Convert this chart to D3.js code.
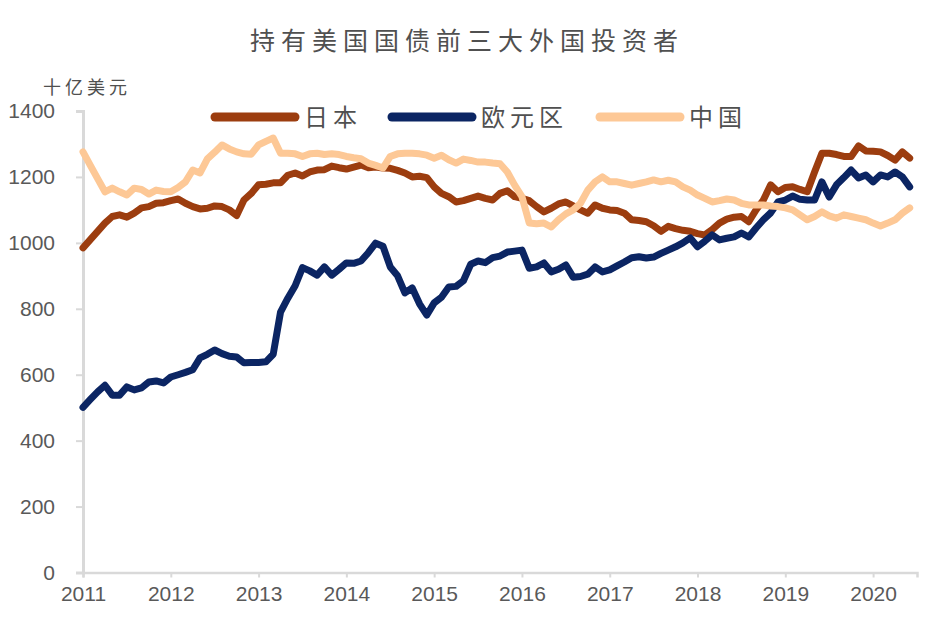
<!DOCTYPE html>
<html>
<head>
<meta charset="utf-8">
<script src="https://cdn.jsdelivr.net/npm/d3@7"></script>
<style>
  html, body { margin: 0; padding: 0; background: #fff; }
  svg { display: block; }
</style>
</head>
<body>
<svg id="chart" width="938" height="622"></svg>
<script>
// ---- DATA (monthly, Jan 2011 .. Jun 2020), 十亿美元 ----
const title = "持有美国国债前三大外国投资者";
const unitLabel = "十亿美元";
const seriesNames = ["日本", "欧元区", "中国"];
const yearLabels = ["2011","2012","2013","2014","2015","2016","2017","2018","2019","2020"];
const yTicks = [0, 200, 400, 600, 800, 1000, 1200, 1400];

const japan = [
  985,1010,1035,1060,1080,1085,1078,1090,1106,1110,1120,1122,
  1128,1133,1120,1110,1103,1105,1112,1110,1100,1083,1130,1150,
  1176,1178,1182,1182,1205,1212,1203,1215,1221,1222,1233,1228,
  1224,1230,1236,1228,1230,1227,1226,1220,1212,1200,1202,1198,
  1170,1150,1140,1124,1128,1135,1142,1135,1130,1150,1158,1140,
  1135,1128,1110,1094,1105,1118,1124,1112,1100,1090,1115,1105,
  1100,1098,1090,1070,1068,1064,1052,1035,1050,1043,1038,1035,
  1028,1024,1040,1060,1072,1078,1080,1064,1100,1130,1176,1155,
  1168,1170,1162,1155,1215,1272,1272,1268,1262,1262,1294,1279,
  1278,1276,1265,1251,1276,1257
];
const euro = [
  501,525,548,568,538,538,563,554,560,578,581,575,
  593,600,607,615,651,662,675,664,656,654,636,637,
  637,639,662,790,832,870,925,915,902,927,902,920,
  939,938,945,970,999,990,927,900,848,863,815,781,
  818,835,866,868,885,935,945,940,955,960,972,975,
  978,923,927,939,912,920,933,896,898,905,927,912,
  918,930,942,955,958,954,957,968,978,988,1000,1015,
  988,1005,1024,1009,1014,1018,1030,1018,1045,1070,1091,1124,
  1130,1142,1132,1130,1130,1185,1139,1176,1198,1221,1197,1206,
  1185,1206,1200,1215,1200,1170
];
const china = [
  1276,1235,1195,1155,1166,1155,1145,1166,1162,1148,1160,1156,
  1155,1168,1185,1221,1212,1255,1275,1297,1285,1276,1270,1269,
  1297,1308,1318,1272,1272,1270,1262,1270,1272,1268,1270,1268,
  1262,1258,1255,1242,1235,1227,1262,1270,1272,1272,1270,1266,
  1257,1266,1252,1242,1254,1250,1245,1245,1242,1240,1215,1175,
  1140,1060,1058,1060,1048,1070,1088,1100,1120,1160,1185,1200,
  1185,1185,1180,1175,1180,1185,1191,1185,1190,1185,1170,1160,
  1145,1135,1124,1128,1133,1130,1120,1115,1115,1115,1112,1110,
  1106,1100,1085,1070,1080,1094,1082,1075,1085,1080,1075,1070,
  1060,1051,1060,1070,1090,1106
];
const seriesColors = ["#9c3d0f", "#0b2563", "#fdc896"];

// ---- CHART ----
const svg = d3.select("#chart");
const x = d3.scaleLinear().domain([0, 114]).range([83, 917]);
const y = d3.scaleLinear().domain([0, 1400]).range([572.5, 111]);
const axisColor = "#d9d9d9";
const textColor = "#595959";

// title
svg.append("text")
  .attr("x", 467).attr("y", 50)
  .attr("text-anchor", "middle")
  .attr("font-family", "'Noto Sans CJK SC', sans-serif")
  .attr("font-weight", 400)
  .attr("font-size", 25)
  .attr("letter-spacing", 6)
  .attr("fill", "#505050")
  .text(title);

// unit label
svg.append("text")
  .attr("x", 43).attr("y", 94)
  .attr("font-family", "'Noto Sans CJK SC', sans-serif")
  .attr("font-weight", 400)
  .attr("font-size", 18)
  .attr("letter-spacing", 4)
  .attr("fill", "#505050")
  .text(unitLabel);

// y axis
const yAxis = d3.axisLeft(y).tickValues(yTicks).tickSize(7).tickPadding(21).tickFormat(d3.format("d"));
const gy = svg.append("g").attr("transform", "translate(83,0)").call(yAxis);
gy.select(".domain").attr("stroke", axisColor).attr("stroke-width", 3);
gy.selectAll(".tick line").attr("stroke", axisColor).attr("stroke-width", 2);
gy.selectAll(".tick text")
  .attr("font-family", "'Liberation Sans', Arial, sans-serif")
  .attr("font-size", 21).attr("fill", textColor);

// x axis
const monthTicks = yearLabels.map((d, i) => i * 12);
const xAxis = d3.axisBottom(x).tickValues(monthTicks).tickSize(5).tickPadding(9)
  .tickFormat((d, i) => yearLabels[i]);
const gx = svg.append("g").attr("transform", "translate(0,572.5)").call(xAxis);
gx.select(".domain").attr("stroke", axisColor).attr("stroke-width", 2.5);
gx.selectAll(".tick line").attr("stroke", axisColor).attr("stroke-width", 2);
gx.selectAll(".tick text")
  .attr("font-family", "'Liberation Sans', Arial, sans-serif")
  .attr("font-size", 21).attr("fill", textColor);

// lines
const allSeries = [japan, euro, china];
const line = d3.line().x((d, i) => x(i)).y(d => y(d)).curve(d3.curveLinear);
allSeries.forEach((s, k) => {
  svg.append("path")
    .datum(s)
    .attr("d", line)
    .attr("fill", "none")
    .attr("stroke", seriesColors[k])
    .attr("stroke-width", 7)
    .attr("stroke-linejoin", "round")
    .attr("stroke-linecap", "round");
});

// legend
const legendX = [215, 392, 600];
const legendY = 117;
seriesNames.forEach((name, k) => {
  const g = svg.append("g").attr("transform", `translate(${legendX[k]},${legendY})`);
  g.append("line")
    .attr("x1", 0).attr("x2", 80).attr("y1", 0).attr("y2", 0)
    .attr("stroke", seriesColors[k]).attr("stroke-width", 9)
    .attr("stroke-linecap", "round");
  g.append("text")
    .attr("x", 89).attr("y", 8.5)
    .attr("font-family", "'Noto Sans CJK SC', sans-serif")
    .attr("font-weight", 400)
    .attr("font-size", 24)
    .attr("letter-spacing", 5)
    .attr("fill", "#505050")
    .text(name);
});
</script>
</body>
</html>
